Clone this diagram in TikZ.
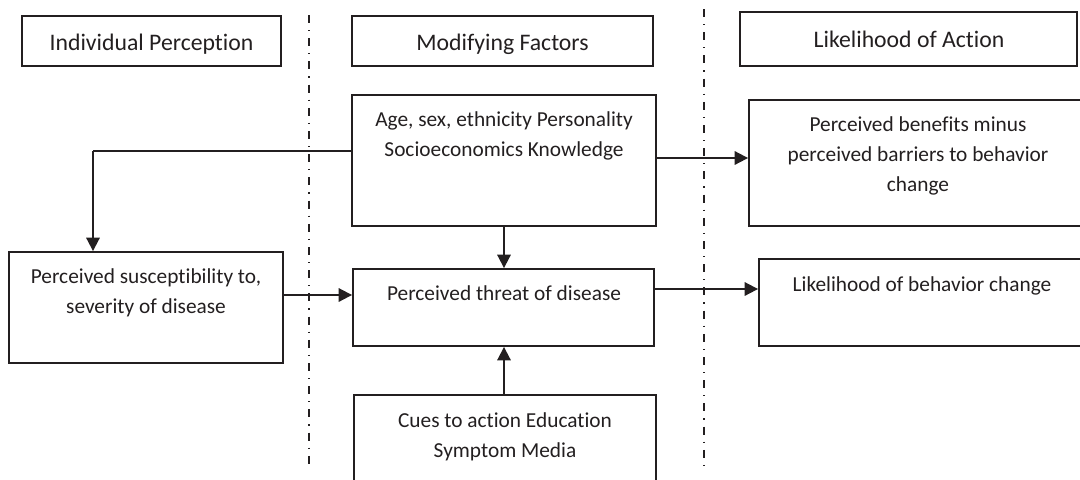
\documentclass[tikz,border=0pt]{standalone}
\usepackage{fontspec}
\setmainfont{Carlito}[Ligatures=NoCommon]
\usetikzlibrary{arrows.meta,calc}
\definecolor{ink}{HTML}{231F20}
\tikzset{
  box/.style={draw=ink, line width=1.4pt, fill=none, inner sep=0pt},
  hdr/.style={text=ink, font=\fontsize{17.8}{22}\selectfont, anchor=base, inner sep=0pt},
  txt/.style={text=ink, font=\fontsize{16}{22.5}\selectfont, align=center, anchor=base, inner sep=0pt},
  conn/.style={draw=ink, line width=1.4pt},
  arr/.style={conn, -{Triangle[length=10pt,width=10pt]}},
  divider/.style={draw=ink, line width=1.2pt, dash pattern=on 6pt off 5.25pt on 0.9pt off 5.25pt}
}
\begin{document}
\begin{tikzpicture}[x=0.75pt,y=-0.75pt]
\useasboundingbox (0,0) rectangle (1080,479);
\clip (0,0) rectangle (1080,479);
% dividers
\coordinate (d1t) at (309,15); \coordinate (d1b) at (309,470);
\coordinate (d2t) at (704,9);  \coordinate (d2b) at (704,465);
\draw[divider] (d1t) -- (d1b);
\draw[divider] (d2t) -- (d2b);
% header boxes
\node[box, minimum width=259*0.75pt, minimum height=50*0.75pt] (ip) at (151.5,41) {};
\node[box, minimum width=301*0.75pt, minimum height=50*0.75pt] (mf) at (502.5,41) {};
\node[box, minimum width=337*0.75pt, minimum height=54*0.75pt] (la) at (908.5,39) {};
\node[hdr] (ipt) at (151.5,50) {Individual Perception};
\node[hdr] (mft) at (502.5,50) {Modifying Factors};
\node[hdr] (lat) at (909,47) {Likelihood of Action};
% content boxes
\node[box, minimum width=304*0.75pt, minimum height=131*0.75pt] (age) at (504,160.5) {};
\node[box, minimum width=338*0.75pt, minimum height=126*0.75pt] (ben) at (918,163) {};
\node[box, minimum width=274*0.75pt, minimum height=111*0.75pt] (sus) at (146,307.5) {};
\node[box, minimum width=301*0.75pt, minimum height=77*0.75pt] (thr) at (503.5,307.5) {};
\node[box, minimum width=302*0.75pt, minimum height=105*0.75pt] (cue) at (505,447.5) {};
\node[box, minimum width=326*0.75pt, minimum height=87*0.75pt] (lbc) at (922,302.5) {};
% texts (anchor base = last line baseline)
\node[txt] (aget) at (504,156) {Age, sex, ethnicity Personality\\Socioeconomics Knowledge};
\node[txt] (bent) at (918,191) {Perceived benefits minus\\perceived barriers to behavior\\change};
\node[txt] (sust) at (146,313) {Perceived susceptibility to,\\severity of disease};
\node[txt] (thrt) at (504,300) {Perceived threat of disease};
\node[txt] (cuet) at (505,457) {Cues to action Education\\Symptom Media};
\node[txt] (lbct) at (922,291) {Likelihood of behavior change};
% connectors
\coordinate (c1) at (93,151);
\draw[conn] (c1 -| age.west) -- (c1);
\draw[arr] (c1) -- (c1 |- sus.north);
\draw[arr] ($(age.east)+(0,-2.5)$) -- ($(age.east -| ben.west)+(0,-2.5)$);
\draw[arr] (age.south) -- (age.south |- thr.north);
\draw[arr] (cue.north -| age.south) -- (age.south |- thr.south);
\draw[arr] ($(sus.east)+(0,-12.5)$) -- ($(sus.east -| thr.west)+(0,-12.5)$);
\draw[arr] ($(thr.east)+(0,-18.5)$) -- ($(thr.east -| lbc.west)+(0,-18.5)$);
\end{tikzpicture}
\end{document}
